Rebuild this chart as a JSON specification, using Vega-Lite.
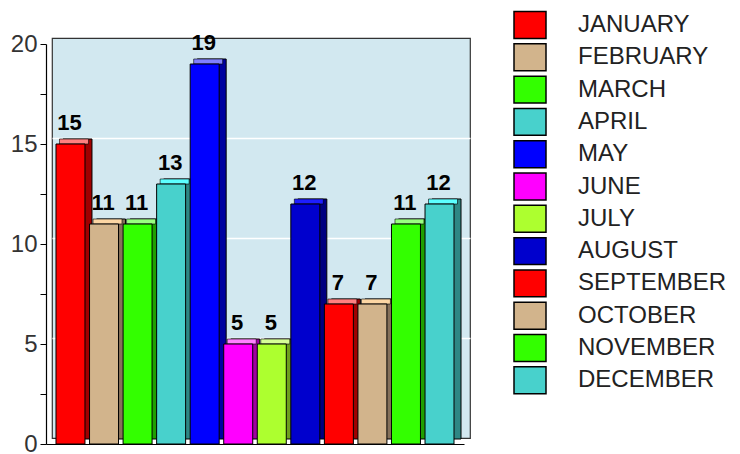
{
  "$schema": "https://vega.github.io/schema/vega-lite/v6.json",
  "width": 418,
  "height": 400,
  "autosize": {"type": "none"},
  "padding": {"left": 52, "top": 38, "right": 270, "bottom": 16},
  "background": "white",
  "config": {
    "view": {"fill": "#d2e8f0", "stroke": "#333", "strokeWidth": 1.2},
    "font": "Liberation Sans"
  },
  "data": {
    "values": [
      {"month": "JANUARY", "value": 15},
      {"month": "FEBRUARY", "value": 11},
      {"month": "MARCH", "value": 11},
      {"month": "APRIL", "value": 13},
      {"month": "MAY", "value": 19},
      {"month": "JUNE", "value": 5},
      {"month": "JULY", "value": 5},
      {"month": "AUGUST", "value": 12},
      {"month": "SEPTEMBER", "value": 7},
      {"month": "OCTOBER", "value": 7},
      {"month": "NOVEMBER", "value": 11},
      {"month": "DECEMBER", "value": 12}
    ]
  },
  "encoding": {
    "x": {
      "field": "month",
      "type": "nominal",
      "sort": null,
      "scale": {"paddingInner": 0.136, "paddingOuter": 0.298},
      "axis": {"labels": false, "ticks": false, "grid": false, "title": null, "domain": true, "domainColor": "black", "domainWidth": 1.2, "offset": 6, "position": -6}
    }
  },
  "layer": [
    {
      "mark": {"type": "bar", "xOffset": 1, "x2Offset": 1, "yOffset": 1, "y2Offset": 1, "stroke": "black", "strokeWidth": 1},
      "encoding": {
        "y": {
          "field": "value", "type": "quantitative", "scale": {"domain": [0, 20]},
          "axis": {"orient": "left", "values": [5, 10, 15], "grid": true, "gridColor": "white", "gridWidth": 1.5, "gridOpacity": 1, "labels": false, "ticks": false, "domain": false, "title": null}
        },
        "color": {
          "field": "month", "type": "nominal", "sort": null, "legend": null,
          "scale": {"range": ["#a00000","#85705a","#1f9f00","#2e8784","#0000a0","#a000a0","#6e9f1e","#000080","#a00000","#85705a","#1f9f00","#2e8784"]}
        }
      }
    },
    {
      "mark": {"type": "bar", "xOffset": -2.5, "x2Offset": -2.5, "yOffset": 1, "y2Offset": 6, "stroke": "black", "strokeWidth": 0.6},
      "encoding": {
        "y": {"field": "value", "type": "quantitative", "axis": null},
        "y2": {"field": "value"},
        "color": {
          "field": "month", "type": "nominal", "sort": null, "legend": null,
          "scale": {"range": ["#ff8080","#fcd6a4","#99ff80","#5cffff","#8080ff","#ff80ff","#d6ff97","#1e1eff","#ff8080","#fcd6a4","#99ff80","#5cffff"]}
        }
      }
    },
    {
      "mark": {"type": "bar", "xOffset": -6, "x2Offset": -6, "yOffset": 6, "y2Offset": 6, "stroke": "black", "strokeWidth": 1},
      "encoding": {
        "y": {
          "field": "value", "type": "quantitative",
          "axis": {
            "orient": "left",
            "offset": 6,
            "position": 6,
            "values": [0, 2.5, 5, 7.5, 10, 12.5, 15, 17.5, 20],
            "labelExpr": "datum.value % 5 === 0 ? datum.label : ''",
            "labelFontSize": 24,
            "labelColor": "#333",
            "labelFont": "Liberation Sans",
            "tickSize": 6,
            "tickColor": "black",
            "domainColor": "black",
            "domainWidth": 1.2,
            "labelPadding": 3,
            "title": null,
            "grid": false
          }
        },
        "color": {
          "field": "month", "type": "nominal", "sort": null,
          "scale": {"range": ["#ff0000","#d2b48c","#33ff00","#48d1cc","#0000ff","#ff00ff","#adff2f","#0000cd","#ff0000","#d2b48c","#33ff00","#48d1cc"]},
          "legend": {
            "orient": "none",
            "legendX": 461,
            "legendY": -29,
            "title": null,
            "symbolType": "M-1,-0.84H1V0.84H-1Z",
            "symbolSize": 1024,
            "symbolStrokeColor": "black",
            "symbolStrokeWidth": 1.5,
            "symbolOpacity": 1,
            "labelFontSize": 24,
            "labelFont": "Liberation Sans",
            "labelColor": "#222",
            "labelOffset": 31,
            "labelLimit": 300,
            "clipHeight": 32,
            "rowPadding": 0.3
          }
        }
      }
    },
    {
      "mark": {"type": "text", "fontSize": 22, "fontWeight": "bold", "color": "black", "baseline": "alphabetic", "yOffset": -8, "xOffset": -7},
      "encoding": {
        "y": {"field": "value", "type": "quantitative", "axis": null},
        "text": {"field": "value", "type": "quantitative"}
      }
    }
  ],
  "resolve": {"scale": {"color": "independent"}, "axis": {"y": "independent"}}
}
